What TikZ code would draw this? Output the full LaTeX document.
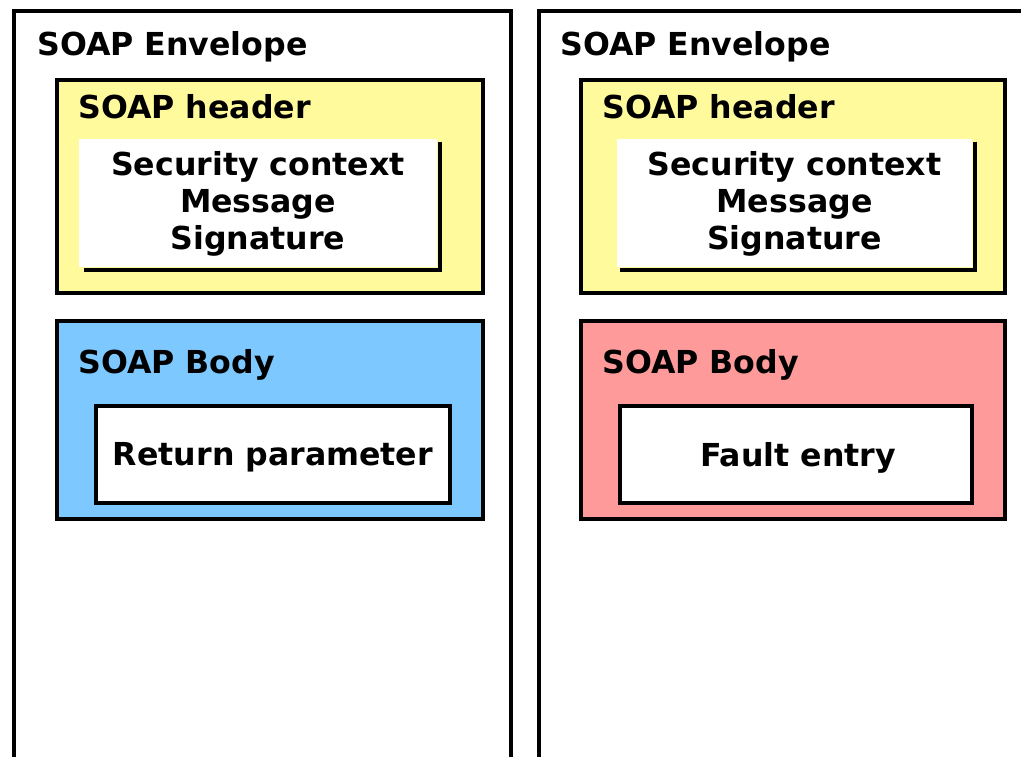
\documentclass[tikz,border=0pt]{standalone}
\usepackage{fontspec}
\setmainfont{DejaVu Sans}
\usepackage{tikz}
\usetikzlibrary{fit,calc}

\definecolor{hdryellow}{HTML}{FFFA9C}
\definecolor{bodyblue}{HTML}{7DC9FF}
\definecolor{bodypink}{HTML}{FF9A9A}

\begin{document}
\begin{tikzpicture}[x=0.02cm,y=-0.02cm]
  \tikzstyle{box} = [rectangle, draw=black, line width=2.3pt, inner sep=0pt]
  \tikzstyle{plain} = [rectangle, fill=white, inner sep=0pt]
  \tikzstyle{lbl} = [inner sep=0pt, anchor=base west, font=\bfseries\fontsize{18pt}{21pt}\selectfont]
  \tikzstyle{txt} = [align=center, font=\bfseries\fontsize{18pt}{21pt}\selectfont]
  \useasboundingbox (0,0) rectangle (1021,757);

  % envelopes (open at the bottom)
  \coordinate (EnvL) at (14,11);
  \coordinate (EnvR) at (539,11);
  \draw[line width=2pt] (14,757) -- (EnvL) -- (511,11) -- (511,757);
  \draw[line width=2pt] (539,757) -- (EnvR) -- (1021,11);
  \node[lbl] (EnvLt) at (37,56) {SOAP Envelope};
  \node[lbl] (EnvRt) at (560,56) {SOAP Envelope};

  % headers
  \node (HdrL) [box, fill=hdryellow, fit={(57,80) (483,293)}] {};
  \node (HdrR) [box, fill=hdryellow, fit={(581,80) (1005,293)}] {};
  \node[lbl] (HdrLt) at (78,118) {SOAP header};
  \node[lbl] (HdrRt) at (602,118) {SOAP header};

  \node (SecL) [plain, fit={(79,139) (437,267)}] {};
  \node (SecR) [plain, fit={(617,139) (972,267)}] {};
  \draw[line width=2.3pt] ($(SecL.north east)+(3,3)$) |- ($(SecL.south west)+(5,3)$);
  \draw[line width=2.3pt] ($(SecR.north east)+(3,3)$) |- ($(SecR.south west)+(3,3)$);
  \node[txt] (SecLt) at ($(SecL.center)+(0,1)$) {Security context\\Message\\Signature};
  \node[txt] (SecRt) at ($(SecR.center)+(0,1)$) {Security context\\Message\\Signature};

  % bodies
  \node (BodyL) [box, fill=bodyblue, fit={(57,321) (483,519)}] {};
  \node (BodyR) [box, fill=bodypink, fit={(581,321) (1005,519)}] {};
  \node[lbl] (BodyLt) at (78,373) {SOAP Body};
  \node[lbl] (BodyRt) at (602,373) {SOAP Body};

  \node (RetP) [box, fill=white, fit={(96,406) (450,503)}] {};
  \node (Fault) [box, fill=white, fit={(620,406) (972,503)}] {};
  \node[txt] (RetPt) at ($(RetP.center)+(0,3)$) {Return parameter};
  \node[txt] (Faultt) at ($(Fault.center)+(2,3)$) {Fault entry};
\end{tikzpicture}
\end{document}
